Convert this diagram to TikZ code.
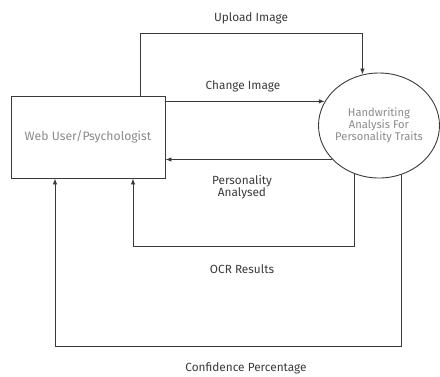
\documentclass[tikz,border=0pt]{standalone}
\usepackage{fontspec}
\setmainfont{Fira Sans}
\usetikzlibrary{shapes.geometric,arrows.meta}
\definecolor{linec}{HTML}{3A3A3A}
\definecolor{labc}{HTML}{3A3A3A}
\definecolor{nodec}{HTML}{8A8A8A}
\tikzset{
  flow/.style={draw=linec,line width=0.9pt,-{Latex[length=6pt,width=4.5pt]}},
  lab/.style={text=labc,font=\fontsize{11.8}{12.5}\selectfont,align=center,inner sep=0pt},
  entity/.style={draw=linec,line width=0.9pt,minimum width=154pt,minimum height=82pt,inner sep=0pt,text=nodec,font=\fontsize{12.2}{13}\selectfont},
  proc/.style={ellipse,draw=linec,line width=0.9pt,minimum width=121pt,minimum height=105pt,inner sep=0pt},
  proctext/.style={text=nodec,align=center,inner sep=0pt,font=\fontsize{11.2}{12.3}\selectfont}
}
\begin{document}
\begin{tikzpicture}[x=1pt,y=-1pt]
\useasboundingbox (0,0) rectangle (440,376);
\node[entity] (box) at (88,137) {Web User/Psychologist};
\node[proc,label={[proctext]center:Handwriting\\Analysis For\\Personality Traits}] (h) at (379,125.5) {};
\coordinate (up) at (140,33);
\coordinate (ocr) at (133,246);
\coordinate (conf) at (55,346);
\draw[flow] (box.north east -| up) -- (up) -| (h.108);
\draw[flow] (h.156 -| box.east) -- (h.156);
\draw[flow] (h.216) -- (h.216 -| box.east);
\draw[flow] (h.243) |- (ocr) -- (ocr |- box.south);
\draw[flow] (h.295) |- (conf) -- (conf |- box.south);
\node[lab] (l1) at (251,18) {Upload Image};
\node[lab] (l2) at (243,86) {Change Image};
\node[lab] (l3) at (242,187) {Personality\\Analysed};
\node[lab] (l4) at (242,269) {OCR Results};
\node[lab] (l5) at (246,368) {Confidence Percentage};
\end{tikzpicture}
\end{document}
